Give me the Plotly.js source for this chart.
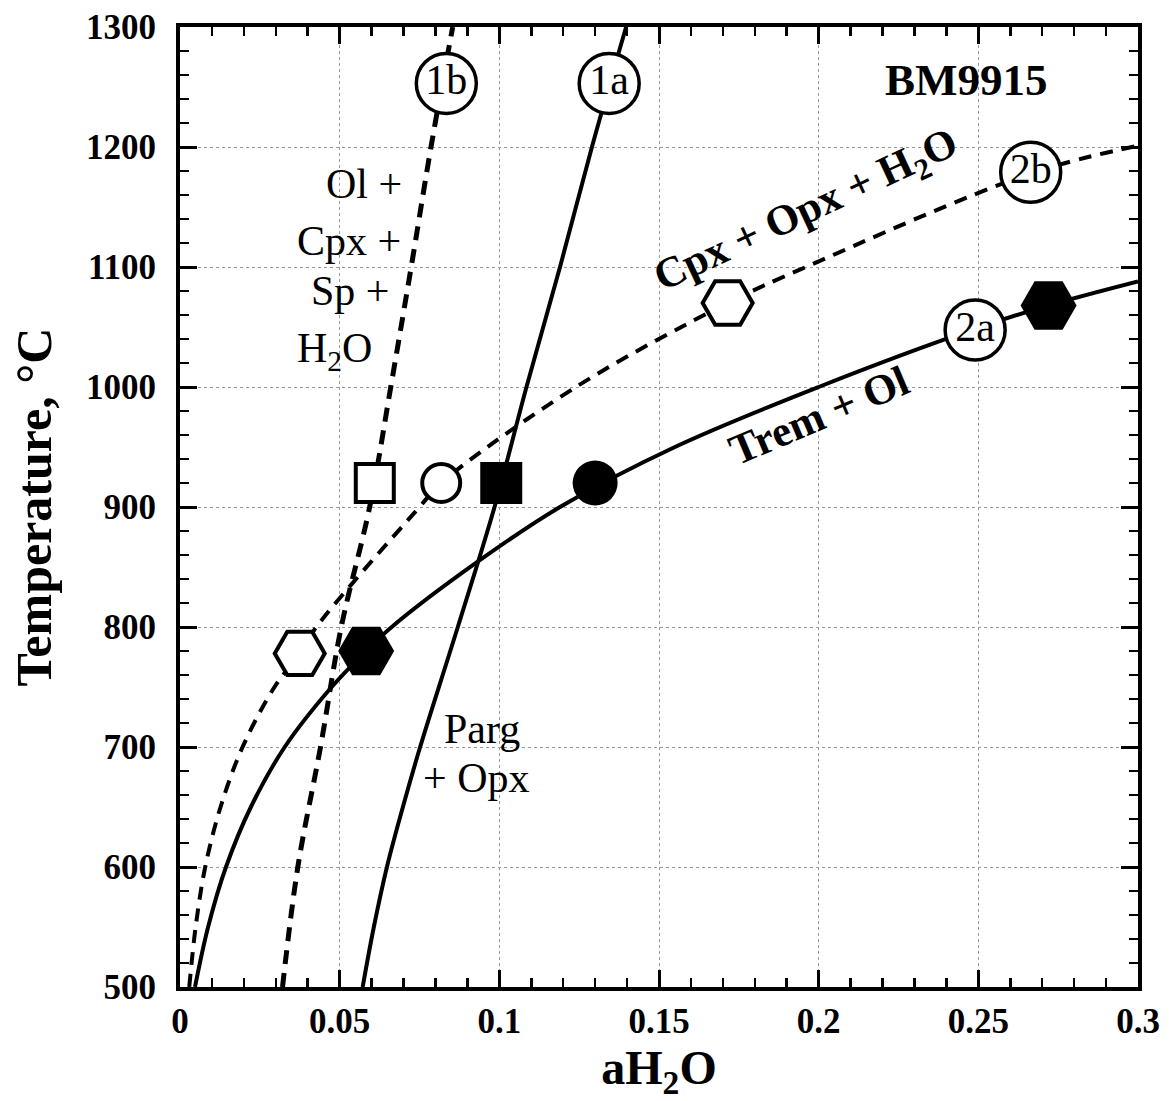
<!DOCTYPE html>
<html>
<head>
<meta charset="utf-8">
<script src="https://cdn.plot.ly/plotly-3.0.1.min.js"></script>
<style>body{margin:0;background:#fff;}#chart{width:1169px;height:1101px;}</style>
</head>
<body>
<div id="chart"></div>
<script>
// ---- Data ----
// Reaction curve 1a (solid): Parg + Opx = Ol + Cpx + Sp + H2O
const curve1a_aH2O = [0.0572, 0.0607, 0.0648, 0.0698, 0.0752, 0.0870, 0.0985, 0.1085, 0.1190, 0.1290, 0.1397];
const curve1a_T    = [500, 550, 600, 650, 700, 800, 900, 1000, 1100, 1200, 1300];
// Reaction curve 1b (dashed)
const curve1b_aH2O = [0.0321, 0.0369, 0.0440, 0.0505, 0.0594, 0.0660, 0.0724, 0.0786, 0.0854];
const curve1b_T    = [500, 600, 700, 800, 900, 1000, 1100, 1200, 1300];
// Reaction curve 2a (solid): Trem + Ol
const curve2a_aH2O = [0.0047, 0.0088, 0.0144, 0.0222, 0.0328, 0.0475, 0.0583, 0.0663, 0.0930, 0.1190, 0.1550, 0.2000, 0.2495, 0.2720, 0.3000];
const curve2a_T    = [500, 550, 600, 650, 700, 750, 780, 800, 854, 900, 950, 1000, 1049, 1068, 1088];
// Reaction curve 2b (dashed): Cpx + Opx + H2O
const curve2b_aH2O = [0.0029, 0.0049, 0.0079, 0.0127, 0.0196, 0.0296, 0.0375, 0.0427, 0.0750, 0.0818, 0.1240, 0.1715, 0.1960, 0.2664, 0.3000];
const curve2b_T    = [500, 550, 600, 650, 700, 750, 778, 800, 900, 920, 1000, 1070, 1100, 1178, 1201];

// Experimental / calculated points
const openSquare_aH2O   = [0.0610];          const openSquare_T   = [920];
const openCircle_aH2O   = [0.0818];          const openCircle_T   = [920];
const filledSquare_aH2O = [0.1006];          const filledSquare_T = [920];
const filledCircle_aH2O = [0.1300];          const filledCircle_T = [920];
const openHex_aH2O      = [0.0375, 0.1715];  const openHex_T      = [778, 1070];
const filledHex_aH2O    = [0.0583, 0.2720];  const filledHex_T    = [780, 1068];

// Circled reaction labels
const reactionLabels      = ['1b', '1a', '2a', '2b'];
const reactionLabel_aH2O  = [0.0834, 0.1344, 0.2490, 0.2664];
const reactionLabel_T     = [1253, 1253, 1047.5, 1179];

// Axis ticks
const xTickVals = [0, 0.05, 0.1, 0.15, 0.2, 0.25, 0.3];
const xTickText = ['0', '0.05', '0.1', '0.15', '0.2', '0.25', '0.3'];
const yTickVals = [500, 600, 700, 800, 900, 1000, 1100, 1200, 1300];

// ---- Styling ----
const SERIF = 'Liberation Serif, Times New Roman, serif';
const solid = {color: '#000', width: 4, shape: 'spline', smoothing: 1};
const dashed = {color: '#000', width: 4, dash: '13px,9px', shape: 'spline', smoothing: 1};

const traces = [
  {x: curve1a_aH2O, y: curve1a_T, mode: 'lines', line: solid, hoverinfo: 'skip'},
  {x: curve1b_aH2O, y: curve1b_T, mode: 'lines', line: Object.assign({}, dashed, {width: 5, dash: '14px,9px'}), hoverinfo: 'skip'},
  {x: curve2a_aH2O, y: curve2a_T, mode: 'lines', line: solid, hoverinfo: 'skip'},
  {x: curve2b_aH2O, y: curve2b_T, mode: 'lines', line: dashed, hoverinfo: 'skip'},
  {x: openSquare_aH2O, y: openSquare_T, mode: 'markers',
   marker: {symbol: 'square', size: 38, color: '#fff', line: {color: '#000', width: 4}}},
  {x: openCircle_aH2O, y: openCircle_T, mode: 'markers',
   marker: {symbol: 'circle', size: 38, color: '#fff', line: {color: '#000', width: 4}}},
  {x: filledSquare_aH2O, y: filledSquare_T, mode: 'markers',
   marker: {symbol: 'square', size: 42, color: '#000', line: {color: '#000', width: 0}}},
  {x: filledCircle_aH2O, y: filledCircle_T, mode: 'markers',
   marker: {symbol: 'circle', size: 45, color: '#000', line: {color: '#000', width: 0}}},
  {x: openHex_aH2O, y: openHex_T, mode: 'markers',
   marker: {symbol: 'hexagon2', size: 50, color: '#fff', line: {color: '#000', width: 4}}},
  {x: filledHex_aH2O, y: filledHex_T, mode: 'markers',
   marker: {symbol: 'hexagon2', size: 56, color: '#000', line: {color: '#000', width: 0}}},
  {x: reactionLabel_aH2O, y: reactionLabel_T, mode: 'markers+text', text: reactionLabels,
   textposition: 'middle center', textfont: {family: SERIF, size: 42, color: '#000'},
   marker: {symbol: 'circle', size: 60, color: '#fff', line: {color: '#000', width: 3.5}}}
];

const annFont = {family: SERIF, size: 42, color: '#000'};
const annBold = {family: SERIF, size: 43, color: '#000', weight: 'bold'};
function ann(text, x, y, font, extra) {
  return Object.assign({text: text, x: x, y: y, xref: 'x', yref: 'y', showarrow: false, font: font}, extra || {});
}

const layout = {
  width: 1169, height: 1101,
  margin: {l: 180, r: 31, t: 27, b: 114},
  paper_bgcolor: '#fff', plot_bgcolor: '#fff',
  showlegend: false,
  font: {family: SERIF, color: '#000'},
  xaxis: {
    range: [0, 0.3], tickvals: xTickVals, ticktext: xTickText,
    ticks: 'inside', ticklen: 17, tickwidth: 3, tickcolor: '#000',
    minor: {dtick: 0.01, ticks: 'inside', ticklen: 9, tickwidth: 2.5, tickcolor: '#000', showgrid: false},
    showline: true, linewidth: 4, linecolor: '#000', mirror: 'ticks',
    showgrid: true, gridcolor: '#999', gridwidth: 1, griddash: 'dot',
    zeroline: false,
    tickfont: {family: SERIF, size: 35, color: '#000', weight: 'bold'},
    ticklabelstandoff: 0,
    title: {text: 'aH<sub>2</sub>O', font: {family: SERIF, size: 48, color: '#000', weight: 'bold'}, standoff: 8}
  },
  yaxis: {
    range: [500, 1300], tickvals: yTickVals,
    ticks: 'inside', ticklen: 17, tickwidth: 3, tickcolor: '#000',
    minor: {dtick: 20, ticks: 'inside', ticklen: 9, tickwidth: 2.5, tickcolor: '#000', showgrid: false},
    showline: true, linewidth: 4, linecolor: '#000', mirror: 'ticks',
    showgrid: true, gridcolor: '#999', gridwidth: 1, griddash: 'dot',
    zeroline: false,
    tickfont: {family: SERIF, size: 35, color: '#000', weight: 'bold'},
    ticklabelstandoff: 13,
    title: {text: 'Temperature, °C', font: {family: SERIF, size: 50, color: '#000', weight: 'bold'}, standoff: 20}
  },
  annotations: [
    ann('Ol +', 0.0703, 1169, annFont, {xanchor: 'right'}),
    ann('Cpx +', 0.0697, 1122, annFont, {xanchor: 'right'}),
    ann('Sp +', 0.0663, 1080, annFont, {xanchor: 'right'}),
    ann('H<sub>2</sub>O', 0.0609, 1030, annFont, {xanchor: 'right'}),
    ann('Parg', 0.0947, 715, annFont),
    ann('+ Opx', 0.0928, 674, annFont),
    ann('BM9915', 0.2462, 1256, Object.assign({}, annBold, {size: 45})),
    ann('Cpx + Opx + H<sub>2</sub>O', 0.1963, 1146, annBold, {textangle: -25}),
    ann('Trem + Ol', 0.2000, 976, annBold, {textangle: -23})
  ]
};

Plotly.newPlot('chart', traces, layout, {displayModeBar: false, staticPlot: true});
</script>
</body>
</html>
